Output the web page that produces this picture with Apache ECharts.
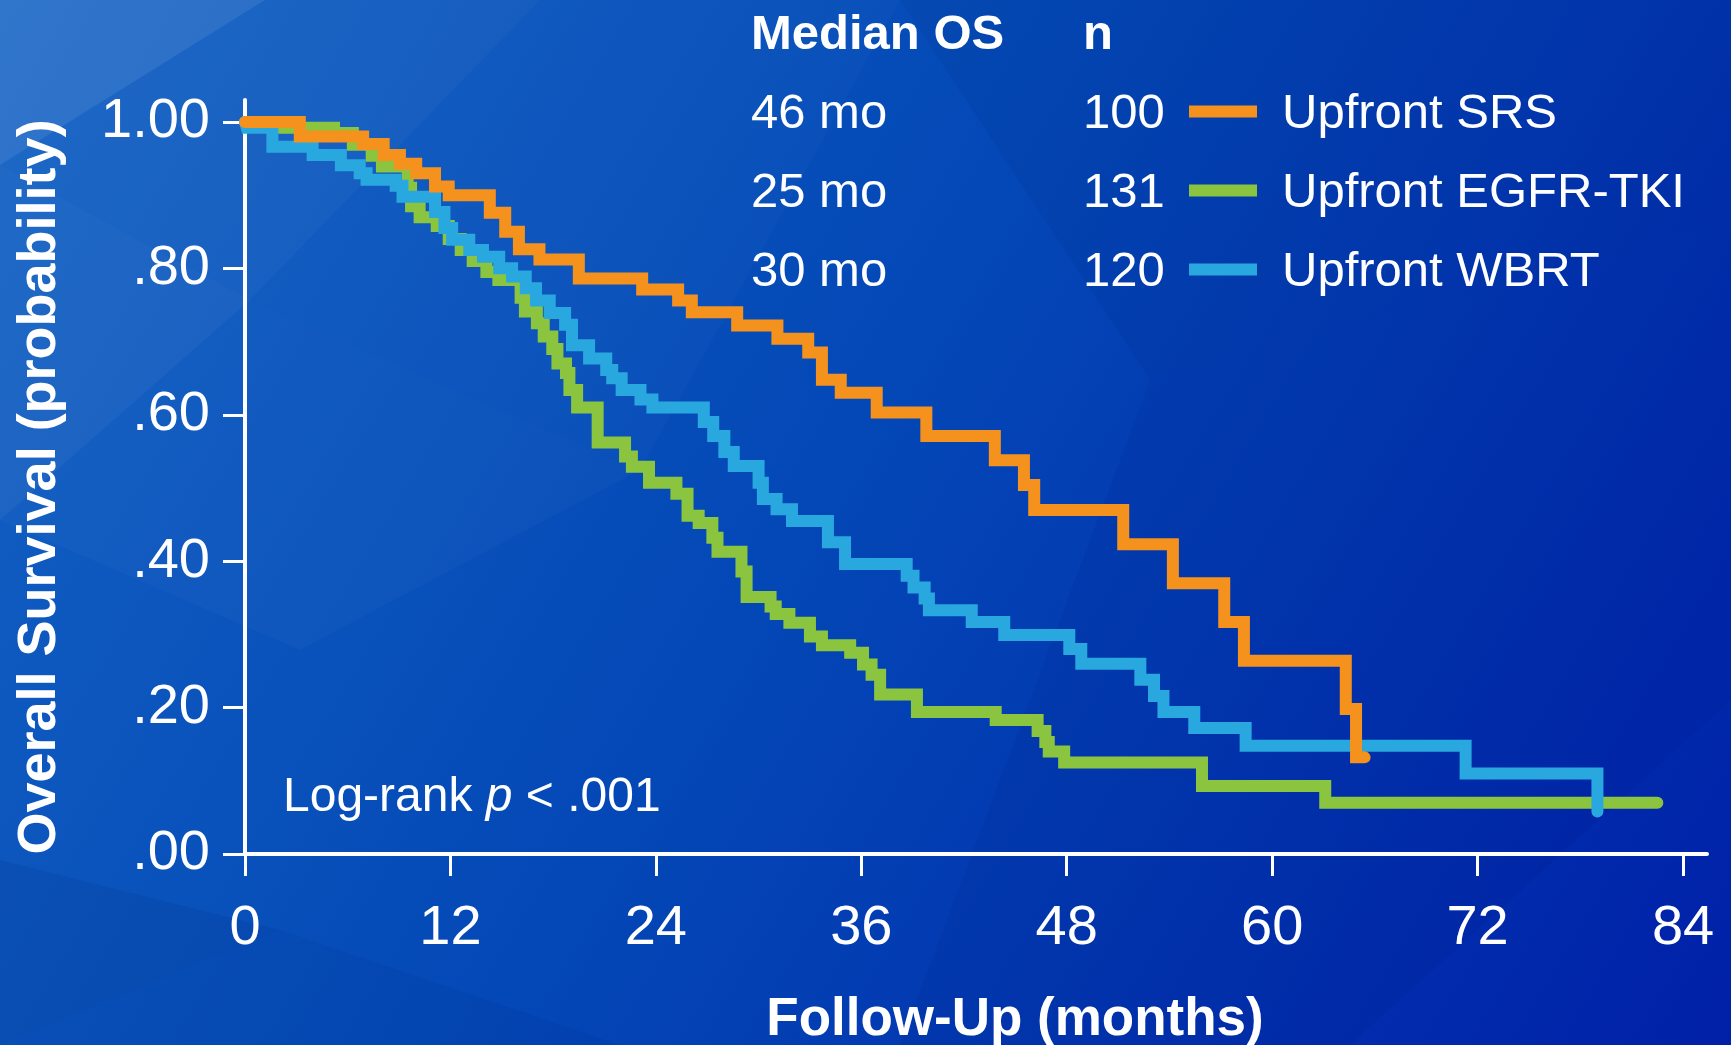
<!DOCTYPE html>
<html>
<head>
<meta charset="utf-8">
<title>Overall Survival by Upfront Treatment</title>
<script src="https://cdn.jsdelivr.net/npm/echarts@6/dist/echarts.min.js"></script>
<style>
  html, body { margin: 0; padding: 0; background: #0446b6; }
  #chart { width: 1731px; height: 1045px; }
</style>
</head>
<body>
<div id="chart"></div>
<script>
// Kaplan–Meier curves: month of each step and survival probability from that month on
const srsMonths = [0, 3.2, 6.9, 8.1, 9.05, 10.0, 11.1, 11.9, 14.3, 15.2, 16.0, 17.2, 19.5, 23.2, 25.3, 26.1, 28.75, 31.1, 32.9, 33.7, 34.8, 36.9, 39.8, 43.8, 45.5, 46.1, 51.3, 54.2, 57.2, 58.35, 64.3, 64.9, 65.4];
const srsSurvival = [1.0, 0.98, 0.97, 0.955, 0.943, 0.93, 0.912, 0.90, 0.876, 0.85, 0.826, 0.812, 0.786, 0.771, 0.756, 0.740, 0.722, 0.704, 0.685, 0.648, 0.630, 0.603, 0.571, 0.538, 0.504, 0.470, 0.423, 0.370, 0.317, 0.264, 0.198, 0.132, 0.132];

const tkiMonths = [0, 1.8, 5.2, 6.3, 7.4, 8.0, 9.5, 9.7, 10.2, 11.2, 11.9, 12.6, 13.3, 14.1, 14.8, 16.1, 16.35, 17.05, 17.45, 17.95, 18.25, 18.75, 18.95, 19.4, 20.6, 22.2, 22.6, 23.6, 25.2, 25.85, 26.5, 27.3, 27.6, 29.0, 29.3, 30.7, 31.0, 31.8, 33.0, 33.7, 35.35, 36.1, 36.6, 37.1, 39.25, 43.85, 46.3, 46.75, 46.95, 47.85, 55.9, 63.1, 82.5];
const tkiSurvival = [1.0, 0.992, 0.985, 0.969, 0.954, 0.939, 0.91, 0.885, 0.870, 0.858, 0.840, 0.825, 0.81, 0.795, 0.784, 0.76, 0.741, 0.725, 0.707, 0.690, 0.670, 0.657, 0.634, 0.610, 0.562, 0.543, 0.529, 0.507, 0.492, 0.462, 0.452, 0.432, 0.413, 0.386, 0.351, 0.338, 0.328, 0.316, 0.297, 0.285, 0.275, 0.259, 0.245, 0.218, 0.194, 0.183, 0.168, 0.153, 0.140, 0.125, 0.093, 0.070, 0.070];

const wbrtMonths = [0, 0.1, 1.6, 3.95, 5.6, 6.7, 7.1, 8.8, 9.2, 11.1, 11.65, 12.1, 13.1, 13.9, 14.85, 15.6, 16.4, 17.0, 17.8, 18.7, 19.1, 20.1, 21.1, 21.45, 22.0, 23.1, 23.8, 26.8, 27.35, 28.0, 28.55, 30.0, 30.25, 31.05, 31.95, 34.05, 35.05, 38.65, 39.05, 39.7, 39.95, 42.45, 44.35, 48.15, 48.85, 52.3, 53.1, 53.65, 55.45, 58.45, 71.3, 79.0];
const wbrtSurvival = [1.0, 0.992, 0.966, 0.955, 0.941, 0.930, 0.921, 0.913, 0.898, 0.877, 0.855, 0.839, 0.825, 0.816, 0.800, 0.789, 0.773, 0.756, 0.739, 0.723, 0.695, 0.677, 0.661, 0.650, 0.634, 0.621, 0.610, 0.590, 0.571, 0.549, 0.530, 0.507, 0.485, 0.471, 0.455, 0.426, 0.396, 0.380, 0.364, 0.349, 0.333, 0.317, 0.299, 0.280, 0.260, 0.238, 0.216, 0.194, 0.172, 0.148, 0.110, 0.058];

// Axis ticks
const monthTicks = [0, 12, 24, 36, 48, 60, 72, 84];
const survivalTicks = [0, 0.2, 0.4, 0.6, 0.8, 1.0];
const survivalTickLabels = ['.00', '.20', '.40', '.60', '.80', '1.00'];

// Legend table
const groupNames = ['Upfront SRS', 'Upfront EGFR-TKI', 'Upfront WBRT'];
const medianOS = ['46 mo', '25 mo', '30 mo'];
const groupSizes = ['100', '131', '120'];
const groupColors = ['#F5921E', '#8BC53F', '#29A8E0'];

const FONT = '"Liberation Sans", Arial, Helvetica, sans-serif';
const WHITE = '#ffffff';

function toPairs(months, surv) {
  return months.map((m, i) => [m, surv[i]]);
}

function kmSeries(name, months, surv, color) {
  return {
    name: name,
    type: 'line',
    step: 'end',
    data: toPairs(months, surv),
    showSymbol: false,
    symbol: 'none',
    silent: true,
    lineStyle: { color: color, width: 12, cap: 'round', join: 'miter' },
    emphasis: { disabled: true }
  };
}

// Soft low-poly facets over the blue backdrop
const facets = [
  { pts: [[0, 0], [265, 0], [0, 165]], fill: 'rgba(255,255,255,0.12)' },
  { pts: [[0, 165], [265, 0], [540, 0], [250, 300]], fill: 'rgba(255,255,255,0.045)' },
  { pts: [[0, 165], [250, 300], [0, 520]], fill: 'rgba(255,255,255,0.06)' },
  { pts: [[250, 300], [640, 470], [300, 650], [0, 520]], fill: 'rgba(255,255,255,0.025)' },
  { pts: [[540, 0], [900, 0], [640, 470], [250, 300]], fill: 'rgba(255,255,255,0.02)' },
  { pts: [[900, 0], [1731, 0], [1731, 220], [1150, 380]], fill: 'rgba(0,0,60,0.05)' },
  { pts: [[1150, 380], [1731, 220], [1731, 700], [1350, 1045], [900, 1045]], fill: 'rgba(0,0,80,0.05)' },
  { pts: [[0, 860], [280, 930], [0, 1045]], fill: 'rgba(0,0,60,0.07)' },
  { pts: [[280, 930], [620, 1045], [0, 1045]], fill: 'rgba(0,0,80,0.05)' }
];

const graphics = [
  {
    type: 'rect', z: -100, silent: true,
    shape: { x: 0, y: 0, width: 1731, height: 1045 },
    style: {
      fill: {
        type: 'linear', x: 0, y: 0, x2: 1, y2: 1,
        colorStops: [
          { offset: 0, color: '#1463c4' },
          { offset: 0.45, color: '#0449b7' },
          { offset: 1, color: '#0020a8' }
        ]
      }
    }
  }
];
facets.forEach(f => graphics.push({
  type: 'polygon', z: -99, silent: true,
  shape: { points: f.pts }, style: { fill: f.fill }
}));

// Legend table: header, then one row per group
const colMedianX = 751, colNX = 1083, swatchX = 1189, nameX = 1282;
const headerY = 35.5;
const rowY = [114.5, 193.5, 272.5];
graphics.push(
  { type: 'text', x: colMedianX, y: headerY, style: { text: 'Median OS', fill: WHITE, font: 'bold 49px ' + FONT, verticalAlign: 'middle' } },
  { type: 'text', x: colNX, y: headerY, style: { text: 'n', fill: WHITE, font: 'bold 49px ' + FONT, verticalAlign: 'middle' } }
);
groupNames.forEach((g, i) => {
  graphics.push(
    { type: 'text', x: colMedianX, y: rowY[i], style: { text: medianOS[i], fill: WHITE, font: '49px ' + FONT, verticalAlign: 'middle' } },
    { type: 'text', x: colNX, y: rowY[i], style: { text: groupSizes[i], fill: WHITE, font: '49px ' + FONT, verticalAlign: 'middle' } },
    { type: 'rect', shape: { x: swatchX, y: rowY[i] - 9, width: 68, height: 12 }, style: { fill: groupColors[i] } },
    { type: 'text', x: nameX, y: rowY[i], style: { text: g, fill: WHITE, font: '49px ' + FONT, verticalAlign: 'middle' } }
  );
});

// Log-rank annotation
graphics.push({
  type: 'text', x: 283, y: 797.5,
  style: {
    text: 'Log-rank {i|p} < .001',
    fill: WHITE, font: '48px ' + FONT, verticalAlign: 'middle',
    rich: { i: { fontStyle: 'italic', fontSize: 48, fontFamily: FONT, fill: WHITE } }
  }
});

const chart = echarts.init(document.getElementById('chart'), null, { renderer: 'canvas' });

chart.setOption({
  animation: false,
  backgroundColor: 'transparent',
  grid: { left: 245, right: 24, top: 100, bottom: 191, containLabel: false, outerBoundsMode: 'none' },
  graphic: graphics,
  xAxis: [{
    type: 'value',
    min: 0, max: 85.4,
    name: 'Follow-Up (months)',
    nameLocation: 'middle',
    nameGap: 140,
    nameMoveOverlap: false,
    nameTextStyle: { color: WHITE, fontFamily: FONT, fontWeight: 'bold', fontSize: 53, padding: [0, 0, 0, 78] },
    axisLine: { show: true, onZero: false, lineStyle: { color: WHITE, width: 4 } },
    axisTick: { show: true, inside: false, length: 22, customValues: monthTicks, lineStyle: { color: WHITE, width: 3 } },
    axisLabel: { show: true, customValues: monthTicks, margin: 47, color: WHITE, fontFamily: FONT, fontSize: 56 },
    splitLine: { show: false }
  }],
  yAxis: [{
    type: 'value',
    min: 0, max: 1.03,
    name: 'Overall Survival (probability)',
    nameLocation: 'middle',
    nameGap: 178,
    nameMoveOverlap: false,
    nameTextStyle: { color: WHITE, fontFamily: FONT, fontWeight: 'bold', fontSize: 54, padding: [0, 20, 0, 0] },
    axisLine: { show: true, onZero: false, lineStyle: { color: WHITE, width: 4 } },
    axisTick: { show: true, inside: false, length: 22, customValues: survivalTicks, lineStyle: { color: WHITE, width: 3 } },
    axisLabel: {
      show: true, customValues: survivalTicks, margin: 35, color: WHITE, fontFamily: FONT, fontSize: 56,
      formatter: v => survivalTickLabels[Math.round(v * 5)]
    },
    splitLine: { show: false }
  }],
  series: [
    kmSeries(groupNames[1], tkiMonths, tkiSurvival, groupColors[1]),
    kmSeries(groupNames[2], wbrtMonths, wbrtSurvival, groupColors[2]),
    kmSeries(groupNames[0], srsMonths, srsSurvival, groupColors[0])
  ]
});
</script>
</body>
</html>
